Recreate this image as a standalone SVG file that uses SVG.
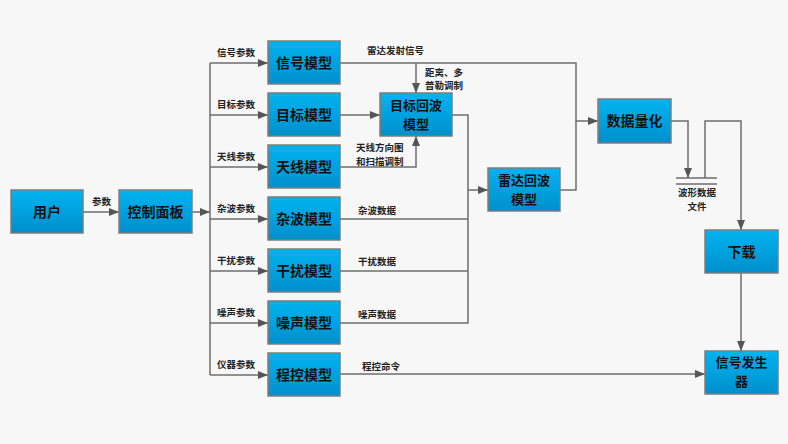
<svg xmlns="http://www.w3.org/2000/svg" width="788" height="444" viewBox="0 0 788 444">
<defs>
<linearGradient id="g" x1="0" y1="0" x2="0" y2="1">
<stop offset="0" stop-color="#00b4f0"/>
<stop offset="1" stop-color="#008fcc"/>
</linearGradient>
<marker id="a" markerUnits="userSpaceOnUse" markerWidth="11" markerHeight="8" refX="10" refY="4" orient="auto">
<path d="M0,0 L10,4 L0,8 z" fill="#555"/>
</marker>
<style>
.box{fill:url(#g);stroke:#7d7d7d;stroke-width:1.5}
.bt{font-family:"Noto Sans CJK SC",sans-serif;font-size:14px;font-weight:bold;fill:#111;text-anchor:middle}
.b2{font-size:13px}
.lb{font-family:"Noto Sans CJK SC",sans-serif;font-size:9.5px;font-weight:bold;fill:#222}
.c{fill:none;stroke:#6e6e6e;stroke-width:1.5}
.ar{marker-end:url(#a)}
</style>
</defs>
<rect width="788" height="444" fill="#f7f7f7"/>
<g id="connectors">
<path class="c ar" d="M83,212 H119"/>
<path class="c ar" d="M192,212 H210"/>
<path class="c" d="M210,63 V375"/>
<path class="c ar" d="M210,63 H268"/>
<path class="c ar" d="M210,115 H268"/>
<path class="c ar" d="M210,167 H268"/>
<path class="c ar" d="M210,219 H268"/>
<path class="c ar" d="M210,271 H268"/>
<path class="c ar" d="M210,323 H268"/>
<path class="c ar" d="M210,375 H268"/>
<path class="c ar" d="M340,63 H576 V121 H598"/>
<path class="c ar" d="M416,63 V93"/>
<path class="c ar" d="M340,115 H380"/>
<path class="c ar" d="M340,167 H416 V136"/>
<path class="c ar" d="M452,115 H468 V190 H488"/>
<path class="c" d="M340,219 H468"/>
<path class="c" d="M340,271 H468"/>
<path class="c" d="M340,323 H468 V190"/>
<path class="c" d="M560,190 H576 V121"/>
<path class="c ar" d="M340,374 H705"/>
<path class="c ar" d="M671,121 H688 V178"/>
<path class="c" d="M676,178 H717 M676,184 H717"/>
<path class="c ar" d="M705,178 V121 H741 V230"/>
<path class="c ar" d="M741,273 V351"/>
</g>
<g id="labels">
<text class="lb" x="92" y="205">参数</text>
<text class="lb" x="217" y="56">信号参数</text>
<text class="lb" x="217" y="108">目标参数</text>
<text class="lb" x="217" y="160">天线参数</text>
<text class="lb" x="217" y="212">杂波参数</text>
<text class="lb" x="217" y="264">干扰参数</text>
<text class="lb" x="217" y="316">噪声参数</text>
<text class="lb" x="217" y="368">仪器参数</text>
<text class="lb" x="367" y="54">雷达发射信号</text>
<text class="lb" x="425" y="76">距离、多</text>
<text class="lb" x="425" y="89">普勒调制</text>
<text class="lb" x="356" y="151">天线方向图</text>
<text class="lb" x="356" y="165">和扫描调制</text>
<text class="lb" x="358" y="214">杂波数据</text>
<text class="lb" x="358" y="265">干扰数据</text>
<text class="lb" x="358" y="318">噪声数据</text>
<text class="lb" x="362" y="370">程控命令</text>
<text class="lb" x="697" y="196" text-anchor="middle">波形数据</text>
<text class="lb" x="697" y="210" text-anchor="middle">文件</text>
</g>
<g id="n-user"><rect class="box" x="11" y="190" width="72" height="43"/><text class="bt" x="47" y="216.5">用户</text></g>
<g id="n-panel"><rect class="box" x="119" y="190" width="73" height="43"/><text class="bt" x="155.5" y="216.5">控制面板</text></g>
<g id="n-signal"><rect class="box" x="268" y="41" width="72" height="43"/><text class="bt" x="304" y="67.5">信号模型</text></g>
<g id="n-target"><rect class="box" x="268" y="93" width="72" height="43"/><text class="bt" x="304" y="119.5">目标模型</text></g>
<g id="n-antenna"><rect class="box" x="268" y="145" width="72" height="43"/><text class="bt" x="304" y="171.5">天线模型</text></g>
<g id="n-clutter"><rect class="box" x="268" y="197" width="72" height="43"/><text class="bt" x="304" y="223.5">杂波模型</text></g>
<g id="n-jam"><rect class="box" x="268" y="249" width="72" height="43"/><text class="bt" x="304" y="275.5">干扰模型</text></g>
<g id="n-noise"><rect class="box" x="268" y="301" width="72" height="43"/><text class="bt" x="304" y="327.5">噪声模型</text></g>
<g id="n-prog"><rect class="box" x="268" y="353" width="72" height="43"/><text class="bt" x="304" y="379.5">程控模型</text></g>
<g id="n-techo"><rect class="box" x="380" y="93" width="72" height="43"/><text class="bt b2" x="416" y="110">目标回波</text><text class="bt b2" x="416" y="129">模型</text></g>
<g id="n-recho"><rect class="box" x="488" y="168" width="72" height="43"/><text class="bt b2" x="524" y="185">雷达回波</text><text class="bt b2" x="524" y="204">模型</text></g>
<g id="n-quant"><rect class="box" x="598" y="99" width="73" height="44"/><text class="bt" x="634.5" y="126">数据量化</text></g>
<g id="n-download"><rect class="box" x="705" y="230" width="73" height="43"/><text class="bt" x="741.5" y="256.5">下载</text></g>
<g id="n-gen"><rect class="box" x="705" y="351" width="73" height="43"/><text class="bt b2" x="741.5" y="367">信号发生</text><text class="bt b2" x="741.5" y="386">器</text></g>
</svg>
